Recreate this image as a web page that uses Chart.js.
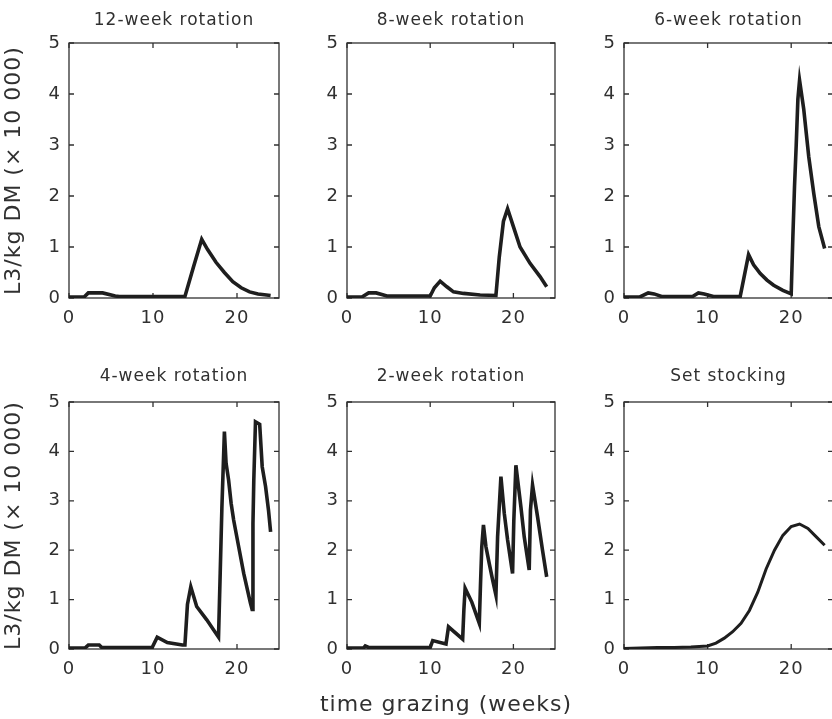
<!DOCTYPE html>
<html>
<head>
<meta charset="utf-8">
<script src="https://cdn.jsdelivr.net/npm/chart.js@4/dist/chart.umd.min.js"></script>
<style>
  body { margin: 0; background: #fff; }
  #wrap { position: relative; width: 832px; height: 719px; overflow: hidden; background: #fff; }
  #wrap canvas { position: absolute; }
</style>
</head>
<body>
<div id="wrap"></div>
<script>
//Texts and ticks
const titles = ['12-week rotation', '8-week rotation', '6-week rotation',
                '4-week rotation', '2-week rotation', 'Set stocking'];
const yLabel = 'L3/kg DM (\u00d7 10 000)';
const xLabel = 'time grazing (weeks)';
const xTicks = [0, 10, 20];
const yTicks = [0, 1, 2, 3, 4, 5];

//Series (weeks, L3/kg DM x 10 000)
const weeks12  = [0, 1.8, 2.3, 4, 5.5, 6, 13.8, 14.8, 15.8, 16.5, 17.5, 18.5, 19.5, 20.5, 21.5, 22.5, 24];
const values12 = [0.02, 0.02, 0.1, 0.1, 0.04, 0.03, 0.03, 0.6, 1.15, 0.95, 0.7, 0.5, 0.32, 0.2, 0.12, 0.08, 0.05];

const weeks8  = [0, 1.8, 2.6, 3.5, 4.8, 10, 10.5, 11.2, 12, 12.8, 14, 16, 17.9, 18.3, 18.8, 19.3, 20, 20.8, 22, 23.2, 24];
const values8 = [0.02, 0.02, 0.1, 0.1, 0.04, 0.04, 0.2, 0.33, 0.22, 0.12, 0.09, 0.06, 0.05, 0.8, 1.5, 1.75, 1.4, 1.0, 0.68, 0.42, 0.22];

const weeks6  = [0, 1.9, 2.9, 3.6, 4.5, 8.2, 8.9, 9.6, 10.7, 13.9, 14.9, 15.5, 16.3, 17.1, 17.9, 19, 20.0, 20.2, 20.4, 20.6, 20.8, 21.0, 21.5, 22.1, 22.7, 23.3, 24];
const values6 = [0.02, 0.02, 0.1, 0.08, 0.03, 0.03, 0.1, 0.08, 0.03, 0.03, 0.85, 0.65, 0.48, 0.35, 0.25, 0.15, 0.08, 1.2, 2.2, 3.0, 3.9, 4.27, 3.7, 2.77, 2.05, 1.4, 0.97];

const weeks4  = [0, 1.9, 2.3, 3.6, 3.9, 9.9, 10.5, 11.7, 13.5, 13.8, 14.1, 14.5, 15.2, 16.4, 17.8, 18.0, 18.2, 18.5, 18.7, 19.0, 19.3, 19.6, 20.2, 20.8, 21.6, 21.8, 21.9, 22.0, 22.2, 22.7, 23.0, 23.4, 23.75, 24];
const values4 = [0.02, 0.02, 0.08, 0.08, 0.03, 0.03, 0.24, 0.13, 0.08, 0.08, 0.9, 1.26, 0.86, 0.59, 0.24, 1.53, 2.85, 4.4, 3.76, 3.42, 2.95, 2.61, 2.07, 1.53, 0.93, 0.8, 2.54, 3.42, 4.6, 4.55, 3.69, 3.29, 2.81, 2.37];

const weeks2  = [0, 2.0, 2.2, 2.6, 8, 10.0, 10.3, 11.9, 12.2, 13.9, 14.05, 14.2, 15.0, 15.9, 16.05, 16.2, 16.4, 16.7, 17.1, 17.5, 17.9, 18.1, 18.3, 18.5, 18.9, 19.3, 19.9, 20.05, 20.3, 20.9, 21.3, 21.9, 22.05, 22.3, 22.9, 23.5, 24];
const values2 = [0.02, 0.02, 0.06, 0.03, 0.03, 0.03, 0.17, 0.1, 0.45, 0.2, 0.8, 1.23, 0.95, 0.52, 1.33, 2.07, 2.51, 2.07, 1.73, 1.4, 1.09, 2.27, 2.88, 3.49, 2.75, 2.21, 1.53, 2.6, 3.72, 2.88, 2.27, 1.6, 2.81, 3.32, 2.68, 2.0, 1.46];

const weeksSet  = [0, 2, 4, 6, 8, 10, 11, 12, 13, 14, 15, 16, 17, 18, 19, 20, 21, 22, 23, 24];
const valuesSet = [0.01, 0.02, 0.03, 0.03, 0.04, 0.06, 0.12, 0.22, 0.35, 0.52, 0.78, 1.15, 1.62, 2.0, 2.3, 2.48, 2.53, 2.44, 2.27, 2.1];

const allWeeks = [weeks12, weeks8, weeks6, weeks4, weeks2, weeksSet];
const allValues = [values12, values8, values6, values4, values2, valuesSet];

//Grid of plot boxes (page pixels)
const colLeft = [69, 347, 624];
const colWidth = [210, 208, 209];
const rowTop = [43, 402];
const rowHeight = [255, 247];
const titleSpace = 43;
const xLabelCenter = 449;
const ink = '#303030';
const fontFamily = "'DejaVu Sans', sans-serif";

Chart.defaults.font.family = fontFamily;
Chart.defaults.color = ink;

//Box with inward ticks, like the original figure
const boxTicks = {
  id: 'boxTicks',
  beforeDraw(chart) {
    chart.ctx.letterSpacing = '1px';
  },
  beforeDatasetsDraw(chart) {
    const { ctx, chartArea: a, scales: { x, y } } = chart;
    ctx.save();
    ctx.strokeStyle = ink;
    ctx.lineWidth = 1.3;
    ctx.strokeRect(a.left, a.top, a.right - a.left, a.bottom - a.top);
    ctx.beginPath();
    x.ticks.forEach(t => {
      const px = x.getPixelForValue(t.value);
      ctx.moveTo(px, a.bottom); ctx.lineTo(px, a.bottom - 5);
      ctx.moveTo(px, a.top); ctx.lineTo(px, a.top + 5);
    });
    y.ticks.forEach(t => {
      const py = y.getPixelForValue(t.value);
      ctx.moveTo(a.left, py); ctx.lineTo(a.left + 5, py);
      ctx.moveTo(a.right, py); ctx.lineTo(a.right - 5, py);
    });
    ctx.stroke();
    ctx.restore();
  }
};

const wrap = document.getElementById('wrap');

function makePanel(i) {
  const col = i % 3;
  const row = Math.floor(i / 3);
  const yw = col === 0 ? 69 : 50;
  const xh = 35;
  const padRight = 6;
  const hasXLabel = i === 4;
  const canvasLeft = colLeft[col] - yw;
  // under the x label: an empty right axis widens the canvas so the label is centred on xLabelCenter
  const spacer = hasXLabel ? 2 * (xLabelCenter - canvasLeft) - yw - colWidth[col] - padRight : 0;
  const subPad = { top: 7.8, bottom: 2.8 };
  const subH = hasXLabel ? 22 * 1.2 + subPad.top + subPad.bottom : 0;
  const w = yw + colWidth[col] + spacer + padRight;
  const h = Math.round(titleSpace + rowHeight[row] + xh + subH);

  const canvas = document.createElement('canvas');
  canvas.width = w;
  canvas.height = h;
  canvas.style.width = w + 'px';
  canvas.style.height = h + 'px';
  canvas.style.left = canvasLeft + 'px';
  canvas.style.top = (rowTop[row] - titleSpace) + 'px';
  wrap.appendChild(canvas);

  const weeks = allWeeks[i];
  const values = allValues[i];

  const scales = {
    x: {
      type: 'linear',
      min: 0,
      max: 25,
      afterBuildTicks: s => { s.ticks = xTicks.map(v => ({ value: v })); },
      afterFit: s => { s.height = xh; },
      grid: { display: false, drawTicks: false },
      border: { display: false },
      ticks: { color: ink, font: { size: 18 }, padding: 10, maxRotation: 0 }
    },
    y: {
      min: 0,
      max: 5,
      afterBuildTicks: s => { s.ticks = yTicks.map(v => ({ value: v })); },
      afterFit: s => { s.width = yw; },
      grid: { display: false, drawTicks: false },
      border: { display: false },
      ticks: { color: ink, font: { size: 18 }, padding: 8 },
      title: {
        display: col === 0,
        text: yLabel,
        color: ink,
        font: { size: 22 },
        padding: { top: 1, bottom: 0 }
      }
    }
  };
  if (hasXLabel) {
    scales.spacer = {
      type: 'linear',
      position: 'right',
      afterFit: s => { s.width = spacer; },
      grid: { display: false, drawTicks: false },
      border: { display: false },
      ticks: { display: false }
    };
  }

  new Chart(canvas, {
    type: 'line',
    data: {
      datasets: [{
        data: weeks.map((wk, k) => ({ x: wk, y: values[k] })),
        borderColor: '#1e1e1e',
        borderWidth: i === 5 ? 3 : 3.6,
        pointRadius: 0,
        tension: 0,
        fill: false
      }]
    },
    options: {
      responsive: false,
      animation: false,
      devicePixelRatio: 1,
      layout: { padding: { left: 0, right: padRight, top: 0, bottom: 0 } },
      plugins: {
        legend: { display: false },
        tooltip: { enabled: false },
        title: {
          display: true,
          text: titles[i],
          fullSize: false,
          color: ink,
          font: { size: 17, weight: 'normal' },
          padding: row === 0 ? { top: 10, bottom: 12.6 } : { top: 7, bottom: 15.6 }
        },
        subtitle: {
          display: hasXLabel,
          text: xLabel,
          position: 'bottom',
          fullSize: true,
          color: ink,
          font: { size: 22, weight: 'normal' },
          padding: subPad
        }
      },
      scales: scales
    },
    plugins: [boxTicks]
  });
}

for (let i = 0; i < titles.length; i++) {
  makePanel(i);
}
</script>
</body>
</html>
